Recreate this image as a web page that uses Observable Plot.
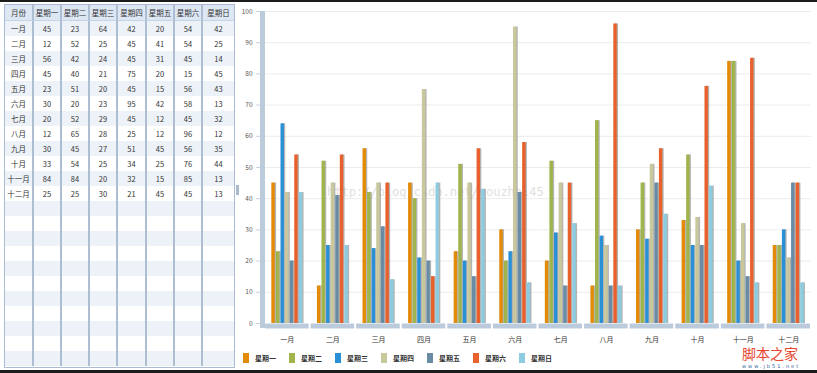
<!DOCTYPE html>
<html><head><meta charset="utf-8">
<script src="https://cdn.jsdelivr.net/npm/d3@7"></script>
<script src="https://cdn.jsdelivr.net/npm/@observablehq/plot@0.6"></script>
<style>
html,body{margin:0;padding:0;background:#fff;}
#root{position:relative;width:817px;height:373px;overflow:hidden;background:#fff;font-family:"Noto Sans CJK SC","Noto Sans",sans-serif;}
#topline{position:absolute;left:0;top:0;width:817px;height:2px;background:#1c1c1c;z-index:5;}
#botline{position:absolute;left:0;bottom:0;width:817px;height:3px;background:#1c1c1c;z-index:7;}
#tablebox{position:absolute;left:4px;top:4px;width:231px;height:364px;border:1px solid #a9bcd3;overflow:hidden;box-sizing:border-box;background:#fff;}
#tablebox table{border-collapse:separate;border-spacing:0;table-layout:fixed;width:229px;font-size:7.5px;color:#333;}
#tablebox td,#tablebox th{box-sizing:border-box;height:15px;padding:0;text-align:center;border-right:2px solid #adbed3;font-weight:normal;line-height:13px;white-space:nowrap;overflow:hidden;}
#tablebox th{height:16px;background:#dde7f3;border-bottom:1px solid #c5d3e3;}
#tablebox td:last-child,#tablebox th:last-child{border-right:none;}
#tablebox tr.alt td{background:#edf2f9;}
#handle{position:absolute;left:236px;top:185px;width:3px;height:10px;background:#a9bbd0;}
#chart{position:absolute;left:237px;top:0;}
#legend{position:absolute;left:243px;top:352px;display:flex;height:11px;}
#legend .item{width:46px;display:flex;align-items:center;font-size:7px;font-weight:bold;color:#333;}
#legend .sw{width:6px;height:10px;margin-right:6px;}
#wm{position:absolute;left:327px;top:185px;font-family:"DejaVu Sans Mono",monospace;font-size:12px;color:#e0e0e0;z-index:0;}
#logo{position:absolute;left:742px;top:346px;font-family:"Noto Sans CJK SC",sans-serif;font-size:14px;color:#e8452c;z-index:6;line-height:14px;height:14px;}
#logo2{position:absolute;left:742px;top:364px;font-family:"DejaVu Sans",sans-serif;font-size:5px;letter-spacing:2px;color:#2a5d9c;z-index:6;line-height:5px;height:5px;}
</style>
</head><body>
<div id="root">
  <div id="topline"></div>
  <div id="tablebox"></div>
  <div id="handle"></div>
  <div id="wm">http://blog.csdn.net/youzhai45</div>
  <div id="chart"></div>
  <div id="legend"></div>
  <div id="logo">脚本之家</div>
  <div id="logo2">www.jb51.net</div>
  <div id="botline"></div>
</div>
<script>
const months = ["一月","二月","三月","四月","五月","六月","七月","八月","九月","十月","十一月","十二月"];
const seriesNames = ["星期一","星期二","星期三","星期四","星期五","星期六","星期日"];
const seriesColors = ["#e38b07","#9fb44a","#2a90d6","#c9c79c","#6a8ba4","#e8612d","#8ccbe0"];
const headerMonth = "月份";
const mon = [45,12,56,45,23,30,20,12,30,33,84,25];
const tue = [23,52,42,40,51,20,52,65,45,54,84,25];
const wed = [64,25,24,21,20,23,29,28,27,25,20,30];
const thu = [42,45,45,75,45,95,45,25,51,34,32,21];
const fri = [20,41,31,20,15,42,12,12,45,25,15,45];
const sat = [54,54,45,15,56,58,45,96,56,76,85,45];
const sun = [42,25,14,45,43,13,32,12,35,44,13,13];
const yTicks = [0,10,20,30,40,50,60,70,80,90,100];

const seriesValues = [mon, tue, wed, thu, fri, sat, sun];
const rows = months.flatMap((m, i) => seriesNames.map((s, j) => ({month: m, series: s, value: seriesValues[j][i]})));

// table
const colW = [29,28,28,28,29,28,28,31];
let html = "<table><colgroup>" + colW.map(w => `<col style="width:${w}px">`).join("") + "</colgroup>";
html += "<tr>" + [headerMonth, ...seriesNames].map(h => `<th>${h}</th>`).join("") + "</tr>";
const totalRows = 23;
for (let i = 0; i < totalRows; i++) {
  const cls = i % 2 === 0 ? "alt" : "";
  if (i < months.length) {
    html += `<tr class="${cls}"><td>${months[i]}</td>` + seriesValues.map(v => `<td>${v[i]}</td>`).join("") + "</tr>";
  } else {
    html += `<tr class="${cls}">` + colW.map(() => "<td></td>").join("") + "</tr>";
  }
}
html += "</table>";
document.getElementById("tablebox").innerHTML = html;

// chart
const W = 580, H = 350, ML = 27, MR = 6, MT = 11, MB = 27;
const facetW = (W - ML - MR) / months.length;
const chart = Plot.plot({
  width: W, height: H,
  marginLeft: ML, marginRight: MR, marginTop: MT, marginBottom: MB,
  style: {fontFamily: "'Noto Sans CJK SC','Noto Sans',sans-serif", background: "transparent"},
  fx: {domain: months, padding: 0, label: null, round: false},
  x: {domain: seriesNames, paddingInner: 0.25, paddingOuter: 1.6, round: false, axis: null},
  y: {domain: [0, 100], label: null},
  color: {domain: seriesNames, range: seriesColors},
  marks: [
    Plot.ruleY(yTicks.filter(d => d > 0), {stroke: "#ececec"}),
    Plot.axisY({ticks: yTicks, tickSize: 8, tickPadding: 4, stroke: "#c6d3e1", fill: "#555", fontSize: 6.5, label: null}),
    Plot.rect([{month: months[0]}], {fx: "month", y1: 0, y2: 100, dx: -4, insetRight: facetW - 5, insetBottom: -5, fill: "#bccbdc"}),
    Plot.ruleY([0], {stroke: "#bccbdc", strokeWidth: 5, dy: 2.5, insetLeft: 1, insetRight: 1}),
    Plot.axisFx({anchor: "bottom", tickSize: 0, tickPadding: 14, fontSize: 7, fill: "#333", label: null}),
    Plot.barY(rows, {fx: "month", x: "series", y: "value", dx: 1.3, fill: "#777", fillOpacity: 0.55}),
    Plot.barY(rows, {fx: "month", x: "series", y: "value", fill: "series"})
  ]
});
document.getElementById("chart").appendChild(chart);

// legend
const lg = document.getElementById("legend");
seriesNames.forEach((s, j) => {
  const it = document.createElement("div");
  it.className = "item";
  it.innerHTML = `<span class="sw" style="background:${seriesColors[j]}"></span><span>${s}</span>`;
  lg.appendChild(it);
});
</script>
</body></html>
